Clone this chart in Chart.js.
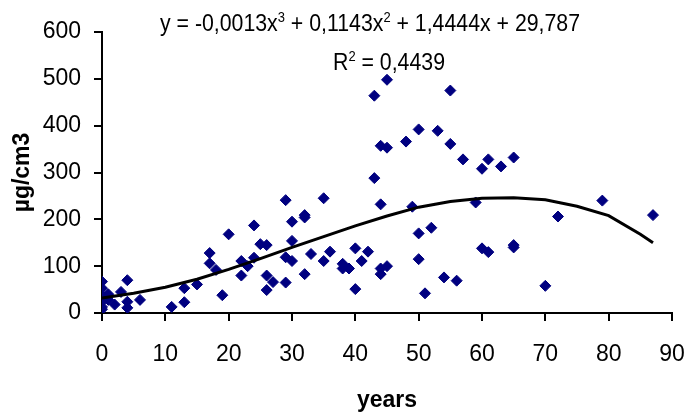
<!DOCTYPE html>
<html lang="en">
    <head>
        <meta charset="UTF-8" />
        <title>µg/cm3 by years</title>
        <script src="https://cdn.jsdelivr.net/npm/chart.js@4.4.1/dist/chart.umd.min.js"></script>
        <style>
            html, body { margin: 0; padding: 0; background: #fff; }
            #wrap { width: 688px; height: 414px; }
        </style>
    </head>
    <body>
        <div id="wrap"><canvas id="myChart" width="688" height="414"></canvas></div>

        <script>
            // values
            const years = [0, 0, 0, 0, 0, 0, 0, 1, 1, 2, 3, 4, 4, 4, 6, 11, 13, 13, 15, 17, 17, 18, 19, 20, 22, 22, 23, 24, 24, 25, 26, 26, 26, 27, 29, 29, 29, 30, 30, 30, 32, 32, 32, 33, 35, 35, 36, 38, 38, 39, 40, 40, 41, 42, 43, 43, 44, 44, 44, 44, 45, 45, 45, 48, 49, 50, 50, 50, 51, 52, 53, 54, 55, 55, 56, 57, 59, 60, 60, 61, 61, 63, 65, 65, 65, 70, 72, 79, 87];
            const conc = [67, 53, 38, 35, 24, 13, 8, 28, 40, 18, 45, 70, 24, 11, 28, 13, 23, 53, 61, 128, 106, 92, 38, 168, 111, 80, 100, 187, 118, 147, 145, 80, 49, 66, 241, 119, 65, 195, 154, 111, 209, 204, 83, 126, 245, 111, 131, 105, 95, 95, 138, 51, 111, 131, 464, 288, 357, 232, 95, 83, 498, 353, 100, 366, 227, 392, 170, 115, 42, 182, 389, 76, 475, 361, 69, 328, 236, 308, 138, 328, 130, 313, 332, 145, 140, 58, 206, 240, 209];

            // trend line as drawn in the picture
            const trendX = [0, 5, 10, 15, 20, 25, 30, 35, 40, 45, 50, 55, 60, 65, 70, 75, 80, 85, 87];
            const trendY = [32, 42, 55, 72, 93, 116, 140, 163, 186, 207, 226, 238, 245, 246, 242, 228, 208, 168, 150];

            // equation label: [text, superscript?]
            const equationParts = [["y = -0,0013x", false], ["3", true], [" + 0,1143x", false], ["2", true], [" + 1,4444x + 29,787", false]];
            const r2Parts = [["R", false], ["2", true], [" = 0,4439", false]];

            const FONT = "'Liberation Sans', Arial, sans-serif";

            function drawParts(ctx, parts, left, baseline, width) {
                const main = "23px " + FONT;
                const sup = "14px " + FONT;
                let total = 0;
                parts.forEach(([t, s]) => {
                    ctx.font = s ? sup : main;
                    total += ctx.measureText(t).width;
                });
                const k = width ? width / total : 1;
                ctx.save();
                ctx.translate(left, baseline);
                ctx.scale(k, 1);
                let x = 0;
                parts.forEach(([t, s]) => {
                    ctx.font = s ? sup : main;
                    ctx.fillText(t, x, s ? -9 : 0);
                    x += ctx.measureText(t).width;
                });
                ctx.restore();
            }

            const equationLabel = {
                id: "equationLabel",
                afterDraw(chart) {
                    const ctx = chart.ctx;
                    ctx.save();
                    ctx.fillStyle = "#000";
                    ctx.textAlign = "left";
                    ctx.textBaseline = "alphabetic";
                    drawParts(ctx, equationParts, 160, 31, 420);
                    drawParts(ctx, r2Parts, 333, 70, 112);
                    ctx.restore();
                },
            };

            const points = years.map((x, i) => ({ x: x, y: conc[i] }));
            const trend = trendX.map((x, i) => ({ x: x, y: trendY[i] }));

            const axisGrid = {
                drawOnChartArea: false,
                drawTicks: true,
                tickLength: 8,
                color: "#000",
                lineWidth: 2,
            };

            const ctx = document.getElementById("myChart").getContext("2d");
            const myChart = new Chart(ctx, {
                type: "scatter",
                data: {
                    datasets: [
                        {
                            label: "trend",
                            data: trend,
                            showLine: true,
                            borderColor: "#000",
                            borderWidth: 3,
                            pointRadius: 0,
                            fill: false,
                            tension: 0,
                        },
                        {
                            label: "µg/cm3",
                            data: points,
                            pointStyle: "rectRot",
                            pointRadius: 5.5,
                            pointBorderWidth: 1,
                            pointBackgroundColor: "#000080",
                            pointBorderColor: "#000080",
                        },
                    ],
                },
                options: {
                    responsive: false,
                    animation: false,
                    layout: { padding: { top: 32, right: 0, bottom: 0, left: 0 } },
                    plugins: {
                        legend: { display: false },
                        tooltip: { enabled: false },
                    },
                    scales: {
                        x: {
                            type: "linear",
                            min: 0,
                            max: 90,
                            grid: axisGrid,
                            border: { color: "#000", width: 2 },
                            ticks: {
                                stepSize: 10,
                                color: "#000",
                                padding: 20,
                                maxRotation: 0,
                                font: { family: FONT, size: 23 },
                            },
                            title: {
                                display: true,
                                text: "years",
                                color: "#000",
                                padding: { top: 0, bottom: 0 },
                                font: { family: FONT, size: 23, weight: "bold" },
                            },
                            afterFit(scale) {
                                scale.height = 101;
                                scale.paddingLeft = 0;
                                scale.paddingRight = 16;
                            },
                        },
                        y: {
                            min: 0,
                            max: 600,
                            grid: axisGrid,
                            border: { color: "#000", width: 2 },
                            ticks: {
                                stepSize: 100,
                                color: "#000",
                                padding: 13,
                                font: { family: FONT, size: 23 },
                            },
                            title: {
                                display: true,
                                text: "µg/cm3",
                                color: "#000",
                                padding: { top: 9, bottom: 0 },
                                font: { family: FONT, size: 23, weight: "bold" },
                            },
                            afterFit(scale) {
                                scale.width = 102;
                            },
                        },
                    },
                },
                plugins: [equationLabel],
            });
        </script>
    </body>
</html>
